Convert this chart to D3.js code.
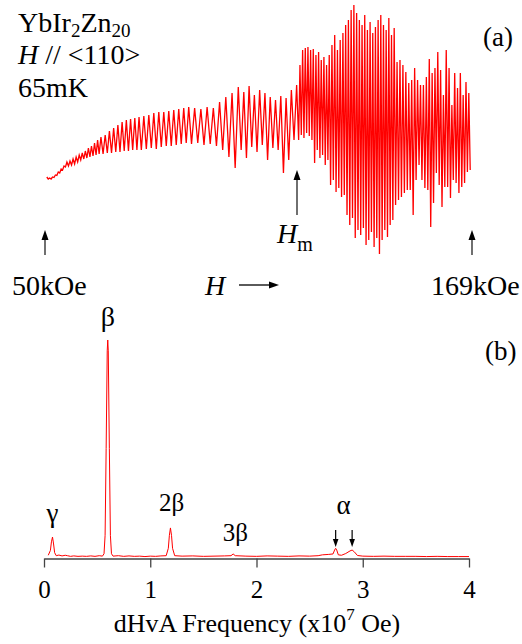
<!DOCTYPE html>
<html>
<head>
<meta charset="utf-8">
<script src="https://cdn.jsdelivr.net/npm/d3@7"></script>
<style>
  html, body { margin: 0; padding: 0; background: #fff; }
</style>
</head>
<body>
<svg id="chart" width="522" height="644" font-family="'Times New Roman', Times, 'Liberation Serif', serif"></svg>
<script>
// panel (a): field where each stretch of trace starts/ends (kOe)
const segBounds = [50.3, 55.9, 65.3, 76.5, 90.4, 104.3, 120.5, 129.4, 137.8, 147.5, 157.3, 168.7];

// successive extrema of the dHvA signal in each stretch (a.u.)
const seg1 = [88, 86, 87, 86, 88, 87.5, 90, 89.5, 93, 92, 96, 95, 99, 98];
const seg2 = [103, 99, 104, 100, 106, 101, 108, 103, 110, 105, 112, 106, 114, 107, 117, 108, 119, 109, 122, 110, 125, 111];
const seg3 = [128, 111, 130, 112, 134, 112, 137, 113, 140, 113, 143, 114, 145, 114, 146, 115, 147, 115, 148];
const seg4 = [115, 149, 116, 150, 117, 152, 116, 153, 118, 153, 119, 154, 119, 155, 120, 156, 121, 157, 122, 158];
const seg5 = [121, 157, 122, 156, 120, 158, 121, 157, 119, 163, 115, 168, 108, 172, 97, 178];
const seg6 = [115, 173, 107, 179, 118, 170, 113, 175, 120, 172, 105, 168, 117, 165, 115, 169, 92, 167, 105, 175, 125, 180];
const seg7 = [125, 200, 130, 215, 127, 217, 132, 218, 129, 215, 125, 216, 102, 210, 115, 213, 107, 205, 110, 208, 100, 200, 105, 210];
const seg8 = [80, 220, 85, 230, 73, 215, 77, 225, 68, 232, 70, 240, 50, 245, 40, 255, 47, 260, 27, 252, 35, 245];
const seg9 = [30, 240, 37, 250, 20, 235, 25, 243, 33, 232, 18, 238, 27, 245, 11, 250, 25, 240, 35, 235, 28, 247, 40, 230, 45, 237];
const seg10 = [60, 203, 65, 205, 68, 200, 72, 193, 75, 182, 75, 185, 50, 197, 85, 185, 100, 180, 85, 180, 77, 188, 75, 206];
const seg11 = [38, 192, 62, 197, 92, 213, 80, 195, 58, 170, 78, 215, 78, 197, 67, 160, 85, 192, 82, 177, 72, 192, 78, 170, 82, 183, 93, 172, 95];
const segments = [seg1, seg2, seg3, seg4, seg5, seg6, seg7, seg8, seg9, seg10, seg11];

// panel (b): FFT spectrum
const fftFreq = [0.04, 0.06, 0.07, 0.08, 0.09, 0.10, 0.115, 0.14, 0.17, 0.20, 0.22, 0.25, 0.28, 0.32, 0.36, 0.40, 0.44, 0.48, 0.52, 0.55,
  0.565, 0.575, 0.585, 0.595, 0.60, 0.605, 0.615, 0.625, 0.635, 0.65, 0.70, 0.75, 0.80, 0.85, 0.90, 0.95, 1.00, 1.05, 1.10, 1.15,
  1.17, 1.18, 1.19, 1.20, 1.21, 1.23, 1.30, 1.40, 1.50, 1.60, 1.70, 1.76, 1.78, 1.80, 1.90, 2.00, 2.10, 2.20, 2.30, 2.40, 2.50,
  2.58, 2.62, 2.68, 2.72, 2.735, 2.745, 2.755, 2.77, 2.80, 2.84, 2.88, 2.90, 2.92, 2.95, 3.00, 3.10, 3.20, 3.30, 3.40, 3.50,
  3.60, 3.70, 3.80, 3.90, 4.00];
const fftAmp = [0.8, 3, 7, 9.2, 6, 2, 0.6, 0.9, 0.5, 0.8, 0.6, 0.3, 0.5, 0.3, 0.4, 0.3, 0.5, 0.3, 0.6, 0.4,
  1.5, 10, 50, 95, 100, 95, 50, 10, 1.5, 0.4, 0.6, 0.3, 0.5, 0.3, 0.4, 0.2, 0.4, 0.3, 0.5, 0.6,
  4, 10, 13.4, 10, 4, 0.6, 0.4, 0.5, 0.3, 0.4, 0.5, 0.6, 1.4, 0.6, 0.4, 0.3, 0.5, 0.4, 0.3, 0.5, 0.4,
  0.6, 1.0, 1.2, 1.4, 3.2, 4.0, 3.2, 1.0, 0.8, 1.6, 2.8, 3.2, 2.4, 0.7, 0.4, 0.3, 0.4, 0.3, 0.3, 0.3,
  0.2, 0.3, 0.2, 0.2, 0.2];
const freqTicks = [0, 1, 2, 3, 4];

// peak labels: frequency, label baseline (px), text, size
const peakLabels = [
  { f: 0.08, y: 522, t: "γ", s: 27 },
  { f: 0.60, y: 326, t: "β", s: 28 },
  { f: 1.20, y: 511, t: "2β", s: 25 },
  { f: 1.80, y: 541, t: "3β", s: 25 },
  { f: 2.82, y: 514, t: "α", s: 27 }
];
const alphaArrows = [2.745, 2.90];

const svg = d3.select("#chart");
const RED = "#ff0000";

// ---------- panel (a) ----------
const xA = d3.scaleLinear().domain([50, 169]).range([45, 472]);
const yA = d3.scaleLinear().domain([0, 260]).range([265, 5]);

const trace = [];
segments.forEach((seg, k) => {
  const a = segBounds[k], b = segBounds[k + 1];
  const step = (b - a) / seg.length;
  seg.forEach((v, i) => trace.push([a + (i + 0.5) * step, v]));
});

svg.append("path")
  .datum(trace)
  .attr("fill", "none")
  .attr("stroke", RED)
  .attr("stroke-width", 1.3)
  .attr("d", d3.line().x(d => xA(d[0])).y(d => yA(d[1])));

function arrowUp(x, yTip, yTail) {
  svg.append("line")
    .attr("x1", x).attr("x2", x)
    .attr("y1", yTail).attr("y2", yTip + 8)
    .attr("stroke", "#333").attr("stroke-width", 1.4);
  svg.append("path")
    .attr("d", `M${x},${yTip} L${x - 3.5},${yTip + 10} L${x + 3.5},${yTip + 10} Z`)
    .attr("fill", "#000");
}

arrowUp(xA(50), 230, 255);
arrowUp(xA(169), 230, 255);
arrowUp(297, 170, 215);

// H arrow
svg.append("line").attr("x1", 239).attr("x2", 271).attr("y1", 285).attr("y2", 285)
  .attr("stroke", "#000").attr("stroke-width", 1.3);
svg.append("path").attr("d", "M279,285 L269,281.5 L269,288.5 Z").attr("fill", "#000");

svg.append("text").attr("x", 205).attr("y", 295).attr("font-size", 28)
  .attr("font-style", "italic").text("H");

const hm = svg.append("text").attr("x", 277).attr("y", 243).attr("font-size", 28);
hm.append("tspan").attr("font-style", "italic").text("H");
hm.append("tspan").attr("font-size", 20).attr("dy", 8).text("m");

svg.append("text").attr("x", 12).attr("y", 295).attr("font-size", 28).text("50kOe");
svg.append("text").attr("x", 431).attr("y", 295).attr("font-size", 28).text("169kOe");

const t1 = svg.append("text").attr("x", 18).attr("y", 32).attr("font-size", 28);
t1.append("tspan").text("YbIr");
t1.append("tspan").attr("font-size", 19).attr("dy", 5).text("2");
t1.append("tspan").attr("dy", -5).text("Zn");
t1.append("tspan").attr("font-size", 19).attr("dy", 5).text("20");

const t2 = svg.append("text").attr("x", 18).attr("y", 64).attr("font-size", 28);
t2.append("tspan").attr("font-style", "italic").text("H");
t2.append("tspan").text(" // <110>");

svg.append("text").attr("x", 18).attr("y", 97).attr("font-size", 28).text("65mK");

svg.append("text").attr("x", 483).attr("y", 46).attr("font-size", 27).text("(a)");
svg.append("text").attr("x", 485).attr("y", 360).attr("font-size", 27).text("(b)");

// ---------- panel (b) ----------
const xB = d3.scaleLinear().domain([0, 4]).range([44, 469]);
const yB = d3.scaleLinear().domain([0, 100]).range([557, 340]);

const ax = svg.append("g")
  .attr("transform", "translate(0,558.5)")
  .call(d3.axisBottom(xB).tickValues(freqTicks).tickFormat(d3.format("d"))
    .tickSize(9).tickSizeOuter(0));
ax.attr("font-family", null);
ax.select(".domain").attr("stroke", "#444").attr("stroke-width", 1.3);
ax.selectAll(".tick line").attr("stroke", "#444").attr("stroke-width", 1.3);
ax.selectAll(".tick text")
  .attr("y", 39).attr("dy", null)
  .attr("font-size", 25)
  .attr("fill", "#000");

svg.append("path")
  .datum(d3.zip(fftFreq, fftAmp))
  .attr("fill", "none")
  .attr("stroke", RED)
  .attr("stroke-width", 1)
  .attr("d", d3.line().x(d => xB(d[0])).y(d => yB(d[1])));

svg.selectAll(".plabel")
  .data(peakLabels)
  .enter().append("text")
  .attr("class", "plabel")
  .attr("x", d => xB(d.f))
  .attr("y", d => d.y)
  .attr("font-size", d => d.s)
  .attr("text-anchor", "middle")
  .text(d => d.t);

alphaArrows.forEach(f => {
  const x = xB(f);
  svg.append("line").attr("x1", x).attr("x2", x).attr("y1", 530).attr("y2", 541)
    .attr("stroke", "#000").attr("stroke-width", 1.2);
  svg.append("path").attr("d", `M${x},547 L${x - 2.8},539 L${x + 2.8},539 Z`).attr("fill", "#000");
});

const title = svg.append("text").attr("x", 257).attr("y", 632)
  .attr("font-size", 26).attr("text-anchor", "middle");
title.append("tspan").text("dHvA Frequency (x10");
title.append("tspan").attr("font-size", 17).attr("dy", -12).text("7");
title.append("tspan").attr("dy", 12).text(" Oe)");
</script>
</body>
</html>
